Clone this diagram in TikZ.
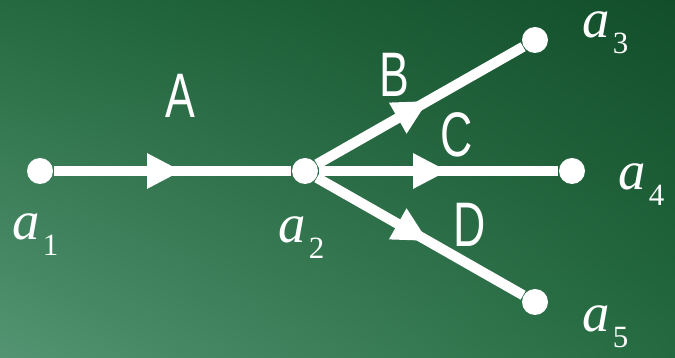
\documentclass[tikz,border=0pt]{standalone}
\usepackage{fontspec}
\setmainfont{Liberation Serif}
\newfontfamily\labfont{Liberation Sans}
\usetikzlibrary{arrows.meta,decorations.markings,shadings}

\definecolor{bgdark}{RGB}{18,78,42}
\definecolor{bgmid}{RGB}{36,106,64}
\definecolor{bglight}{RGB}{84,148,114}

\newcommand{\vlab}[1]{{\fontsize{15.6pt}{18pt}\selectfont\itshape a}\kern0.8pt\raisebox{-4.3pt}{\fontsize{8.8pt}{10pt}\selectfont #1}}
\newcommand{\elab}[1]{\scalebox{0.71}[1]{\fontsize{17.9pt}{20pt}\selectfont\labfont #1}}

\begin{document}
\begin{tikzpicture}[every node/.style={text=white},
    dot/.style={circle,fill=white,inner sep=0pt,minimum size=2.6mm},
    lab/.style={inner sep=0pt},
    edge/.style={white,line width=2.9pt,postaction={decorate},
      decoration={markings,mark=at position 0.54 with {\arrow{Triangle[length=3.5mm,width=3.3mm]}}}}]
    % board
    \shade[upper right=bgdark,upper left=bgmid,lower right=bgmid,lower left=bglight]
      (0,0) rectangle (6.75,3.58);
    \useasboundingbox (0,0) rectangle (6.75,3.58);
    % points
    \node[dot] (a1) at (0.40,1.87) {};
    \node[dot] (a2) at (3.05,1.87) {};
    \node[dot] (a3) at (5.35,3.18) {};
    \node[dot] (a4) at (5.72,1.87) {};
    \node[dot] (a5) at (5.35,0.56) {};
    % edges
    \draw[edge] (a1) -- (a2);
    \draw[edge] (a2) -- (a3);
    \draw[edge] (a2) -- (a4);
    \draw[edge] (a2) -- (a5);
    % point labels
    \node[lab,anchor=base west] (l1) at (0.12,1.18) {\vlab{1}};
    \node[lab,anchor=base west] (l2) at (2.78,1.15) {\vlab{2}};
    \node[lab,anchor=base west] (l3) at (5.82,3.20) {\vlab{3}};
    \node[lab,anchor=base west] (l4) at (6.18,1.68) {\vlab{4}};
    \node[lab,anchor=base west] (l5) at (5.82,0.26) {\vlab{5}};
    % edge labels
    \node[lab] (eA) at (1.80,2.625) {\elab{A}};
    \node[lab] (eB) at (3.94,2.83) {\elab{B}};
    \node[lab] (eC) at (4.57,2.23) {\elab{C}};
    \node[lab] (eD) at (4.70,1.33) {\elab{D}};
\end{tikzpicture}
\end{document}
